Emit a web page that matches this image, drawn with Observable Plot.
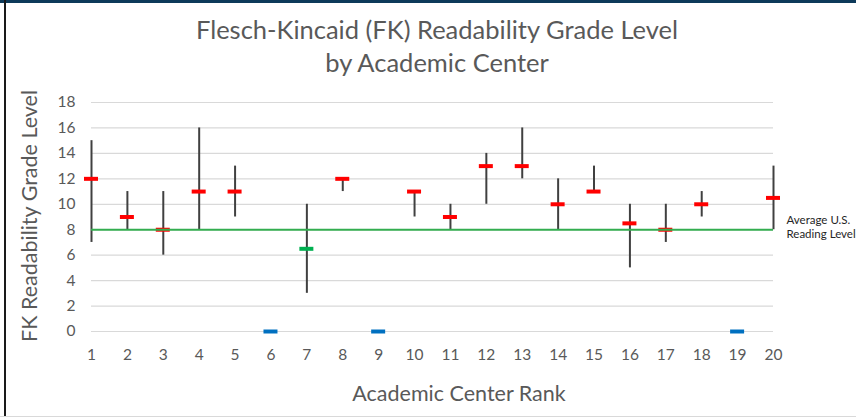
<!DOCTYPE html>
<html>
<head>
<meta charset="utf-8">
<script src="https://cdn.jsdelivr.net/npm/d3@7"></script>
<script src="https://cdn.jsdelivr.net/npm/@observablehq/plot@0.6"></script>
<style>
  html, body { margin: 0; padding: 0; background: #fff; }
  #wrap { position: relative; width: 856px; height: 417px; overflow: hidden; background: #fff; font-family: Lato, "Open Sans", sans-serif; }
  #wrap svg { position: absolute; left: 0; top: 0; }
  .title { position: absolute; left: 9px; width: 856px; text-align: center; color: #595959; font-size: 25.5px; line-height: 33px; }
  .xlab { position: absolute; left: 459px; top: 393px; transform: translate(-50%, -50%); white-space: nowrap; color: #595959; font-size: 21.5px; }
  .ylab { position: absolute; left: 29px; top: 216px; transform: translate(-50%, -50%) rotate(-90deg); white-space: nowrap; color: #595959; font-size: 21.5px; }
  .bt { position: absolute; left: 0; top: 0; width: 856px; height: 3px; background: #0d3a5a; }
  .bl { position: absolute; left: 4px; top: 0; width: 2px; height: 417px; background: #1a1a1a; }
  .bb { position: absolute; left: 0; top: 416px; width: 856px; height: 1px; background: #d9d9d9; }
</style>
</head>
<body>
<div id="wrap">
  <div class="title" style="top:13px">Flesch-Kincaid (FK) Readability Grade Level<br>by Academic Center</div>
  <div class="ylab">FK Readability Grade Level</div>
  <div class="xlab">Academic Center Rank</div>
</div>
<script>
const ranks  = [1,2,3,4,5,6,7,8,9,10,11,12,13,14,15,16,17,18,19,20];
const means  = [12,9,8,11,11,0,6.5,12,0,11,9,13,13,10,11,8.5,8,10,0,10.5];
const lows   = [7,8,6,8,9,null,3,11,null,9,8,10,12,8,11,5,7,9,null,8];
const highs  = [15,11,11,16,13,null,10,12,null,11,10,14,16,12,13,10,10,11,null,13];
const status = ["above","above","above","above","above","none","below","above","none","above",
                "above","above","above","above","above","above","above","above","none","above"];
const yTicks = [0,2,4,6,8,10,12,14,16,18];
const avgLevel = 8;
const avgLabel = "Average U.S.\nReading Level";

const data = ranks.map((r, i) => ({rank: r, mean: means[i], lo: lows[i], hi: highs[i], status: status[i]}));
const ranged = data.filter(d => d.lo != null);

const chart = Plot.plot({
  width: 856,
  height: 417,
  marginLeft: 91,
  marginRight: 83,
  marginTop: 102,
  marginBottom: 86,
  style: {fontFamily: "Lato, 'Open Sans', sans-serif", fontSize: "15.5px", color: "#595959", background: "transparent"},
  x: {type: "linear", domain: [1, 20], ticks: ranks, tickFormat: d => String(d), tickSize: 0, tickPadding: 17, label: null},
  y: {domain: [0, 18], ticks: yTicks, tickSize: 0, tickPadding: 16, label: null},
  color: {domain: ["above", "below", "none"], range: ["#ff0000", "#00b050", "#0070c0"]},
  marks: [
    Plot.ruleY(yTicks, {stroke: "#d9d9d9", strokeWidth: 1.2, strokeOpacity: 1}),
    Plot.ruleX(ranged, {x: "rank", y1: "lo", y2: "hi", stroke: "#404040", strokeWidth: 2}),
    Plot.ruleY(data, {y: "mean", x1: d => d.rank - 0.195, x2: d => d.rank + 0.195, stroke: "status", strokeWidth: 4}),
    Plot.ruleY([avgLevel], {stroke: "#33ad4f", strokeWidth: 2}),
    Plot.text([avgLabel], {x: 20, y: avgLevel, dx: 13, dy: -3, textAnchor: "start", fontSize: 11.5, fill: "#262626", lineHeight: 1.2})
  ]
});
document.getElementById("wrap").prepend(chart);
["bt","bl","bb"].forEach(c => { const e = document.createElement("div"); e.className = c; document.getElementById("wrap").appendChild(e); });
</script>
</body>
</html>
